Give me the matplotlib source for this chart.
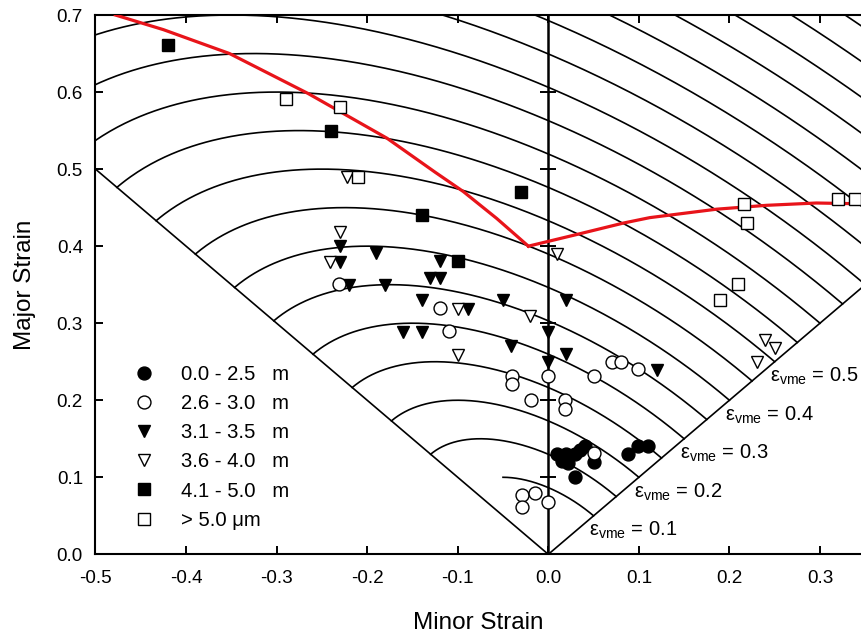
import numpy as np
import matplotlib
matplotlib.use("Agg")
import matplotlib.pyplot as plt

plt.rcParams['font.family'] = ['Liberation Sans', 'DejaVu Sans']
plt.rcParams['axes.unicode_minus'] = False
plt.rcParams['mathtext.fontset'] = 'custom'
plt.rcParams['mathtext.rm'] = 'Liberation Sans'
plt.rcParams['mathtext.it'] = 'Liberation Sans:italic'

# ---------------- data ----------------
size_labels = ["0.0 - 2.5   m", "2.6 - 3.0   m", "3.1 - 3.5   m",
               "3.6 - 4.0   m", "4.1 - 5.0   m", "> 5.0 \u03bcm"]

g1_minor = [0.010, 0.020, 0.015, 0.022, 0.030, 0.035, 0.040, 0.030, 0.050, 0.088, 0.099, 0.110]
g1_major = [0.130, 0.130, 0.121, 0.118, 0.130, 0.135, 0.140, 0.100, 0.120, 0.130, 0.140, 0.140]

g2_minor = [-0.231, -0.120, -0.110, -0.040, -0.040, 0.000, -0.019, 0.019, 0.019,
            0.050, 0.070, 0.080, 0.099, 0.050, -0.029, -0.015, -0.029, 0.000]
g2_major = [0.351, 0.320, 0.290, 0.231, 0.221, 0.231, 0.200, 0.200, 0.189,
            0.231, 0.250, 0.250, 0.240, 0.131, 0.077, 0.080, 0.061, 0.068]

g3_minor = [-0.230, -0.230, -0.190, -0.120, -0.131, -0.120, -0.220, -0.180, -0.140, -0.089,
            -0.050, 0.020, -0.160, -0.140, 0.000, -0.041, 0.020, 0.000, 0.120]
g3_major = [0.400, 0.380, 0.391, 0.381, 0.359, 0.359, 0.350, 0.350, 0.330, 0.319,
            0.330, 0.330, 0.289, 0.289, 0.289, 0.270, 0.260, 0.249, 0.239]

g4_minor = [-0.222, -0.230, -0.241, -0.100, -0.020, 0.010, -0.100, 0.239, 0.250, 0.231]
g4_major = [0.490, 0.419, 0.380, 0.319, 0.309, 0.390, 0.259, 0.278, 0.268, 0.249]

g5_minor = [-0.420, -0.240, -0.140, -0.030, -0.100]
g5_major = [0.661, 0.550, 0.441, 0.470, 0.381]

g6_minor = [-0.290, -0.230, -0.210, 0.216, 0.219, 0.209, 0.190, 0.320, 0.339]
g6_major = [0.591, 0.580, 0.490, 0.455, 0.430, 0.351, 0.330, 0.461, 0.461]

flc_left_minor = [-0.478, -0.425, -0.352, -0.265, -0.178, -0.125, -0.094, -0.057, -0.022]
flc_left_major = [0.700, 0.681, 0.650, 0.598, 0.540, 0.496, 0.471, 0.436, 0.400]
flc_right_minor = [-0.022, 0.031, 0.083, 0.112, 0.186, 0.241, 0.296, 0.345]
flc_right_major = [0.400, 0.415, 0.430, 0.437, 0.448, 0.453, 0.456, 0.455]

vme_levels = [0.10, 0.15, 0.20, 0.25, 0.30, 0.35, 0.40, 0.45, 0.50, 0.55,
              0.60, 0.65, 0.70, 0.75, 0.80, 0.85, 0.90, 0.95, 1.00, 1.05]
vme_labelled = [0.1, 0.2, 0.3, 0.4, 0.5]

xticks = [-0.5, -0.4, -0.3, -0.2, -0.1, 0.0, 0.1, 0.2, 0.3]
yticks = [0.0, 0.1, 0.2, 0.3, 0.4, 0.5, 0.6, 0.7]

# ---------------- figure ----------------
fig = plt.figure(figsize=(8.61, 6.39), dpi=100)
ax = fig.add_axes([0.1109, 0.1325, 0.8891, 0.844])
XMAX = 0.3453
ax.set_xlim(-0.5, XMAX)
ax.set_ylim(0, 0.7)

lc = 'black'
# von Mises effective strain contours
for i, c in enumerate(vme_levels):
    x0 = -c / 2 if i == 0 else -np.sqrt(3) / 2 * c
    x1 = c / 2
    xs = np.linspace(x0, x1, 300)
    ys = (-xs + np.sqrt(np.clip(3 * c**2 - 3 * xs**2, 0, None))) / 2
    ax.plot(xs, ys, color=lc, lw=1.2, zorder=2)

# diagonals and plane-strain axis
ax.plot([-0.5, 0], [0.5, 0], color=lc, lw=1.2, zorder=2)
ax.plot([0, XMAX], [0, XMAX], color=lc, lw=1.2, zorder=2)
ax.plot([0, 0], [0, 0.7], color=lc, lw=1.8, zorder=2)
ax.plot(np.zeros(len(yticks) - 2), yticks[1:-1], ls='none', marker='_',
        ms=12, mew=1.4, color=lc, zorder=2)

# forming limit curve
ax.plot(flc_left_minor, flc_left_major, color='#e8141a', lw=2.3, zorder=3)
ax.plot(flc_right_minor, flc_right_major, color='#e8141a', lw=2.3, zorder=3)

# data points
mew = 1.0
h3, = ax.plot(g3_minor, g3_major, 'v', ms=8.8, mfc='k', mec='k', mew=mew, zorder=4)
h4, = ax.plot(g4_minor, g4_major, 'v', ms=8.8, mfc='white', mec='k', mew=mew, zorder=4)
h5, = ax.plot(g5_minor, g5_major, 's', ms=8.4, mfc='k', mec='k', mew=mew, zorder=4)
h6, = ax.plot(g6_minor, g6_major, 's', ms=8.4, mfc='white', mec='k', mew=mew, zorder=4)
h1, = ax.plot(g1_minor, g1_major, 'o', ms=9.3, mfc='k', mec='k', mew=mew, zorder=5)
h2, = ax.plot(g2_minor, g2_major, 'o', ms=9.3, mfc='white', mec='k', mew=mew, zorder=6)

# effective strain labels
for c in vme_labelled:
    ax.annotate(r'$\mathrm{\varepsilon_{vme}}$' + ' = %.1f' % c, xy=(c / 2, c / 2),
                xytext=(-3.3, -10.8), textcoords='offset points',
                ha='left', va='center', fontsize=14.5, zorder=7)

# legend
ax.legend([h1, h2, h3, h4, h5, h6], size_labels, loc='upper left',
          bbox_to_anchor=(0.0501, 0.351), frameon=False, fontsize=14.6,
          handlelength=1.0, handletextpad=1.31, labelspacing=0.5,
          borderpad=0, borderaxespad=0, numpoints=1)

# axes styling
for s in ['left', 'bottom', 'top']:
    ax.spines[s].set_linewidth(1.5)
ax.spines['right'].set_visible(False)
ax.set_xticks(xticks)
ax.set_yticks(yticks)
ax.set_xticklabels(['%.1f' % v for v in xticks])
ax.set_yticklabels(['%.1f' % v for v in yticks])
ax.tick_params(axis='both', direction='in', length=6, width=1.4, labelsize=13.6)
ax.tick_params(axis='x', top=True, pad=11)
ax.tick_params(axis='y', right=False, pad=9)

ax.set_xlabel('Minor Strain', fontsize=17.5)
ax.set_ylabel('Major Strain', fontsize=17.5)
ax.xaxis.set_label_coords(0.5, -0.107)
ax.yaxis.set_label_coords(-0.078, 0.5)

fig.savefig('out.png', dpi=100)
